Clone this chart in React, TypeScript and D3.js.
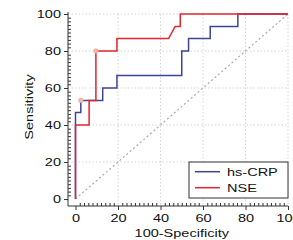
import React, { useEffect, useRef } from 'react';
import * as d3 from 'd3';

// ROC step curves (100-Specificity, Sensitivity)
const crpFpr = [0, 0, 2.5, 2.5, 12.8, 12.8, 19.5, 19.5, 50, 50, 53.2, 53.2, 63.4, 63.4, 76.4, 76.4, 100];
const crpTpr = [0, 46.7, 46.7, 53.3, 53.3, 60, 60, 66.7, 66.7, 80, 80, 86.7, 86.7, 93.3, 93.3, 100, 100];
const nseFpr = [0, 0, 6.4, 6.4, 9.6, 9.6, 19.5, 19.5, 43.8, 46.9, 49.3, 49.3, 100];
const nseTpr = [0, 40, 40, 53.3, 53.3, 80, 80, 86.7, 86.7, 93.3, 93.3, 100, 100];
// optimal criterion markers
const crpCut = [2.5, 53.3];
const nseCut = [9.6, 80];

const majorTicks = [0, 20, 40, 60, 80, 100];
const legendLabels = ['hs-CRP', 'NSE'];
const colors = ['#3d4597', '#e5242c'];

const W = 293;
const H = 240;
const STRETCH = 1.32;

const App: React.FC = () => {
  const svgRef = useRef<SVGSVGElement>(null);

  useEffect(() => {
    const svg = d3.select(svgRef.current);
    svg.selectAll('*').remove();

    const x = d3.scaleLinear().domain([0, 100]).range([75.5, 288]);
    const y = d3.scaleLinear().domain([0, 100]).range([199, 14]);
    const axisX = 68; // y axis line position
    const axisY = 206; // x axis line position
    const font = "'Liberation Sans', Arial, sans-serif";

    // grid
    const grid = svg.append('g').attr('stroke', '#c8c8c8').attr('stroke-width', 0.8).attr('stroke-dasharray', '1.5,2');
    majorTicks.filter(t => t > 0).forEach(t => {
      grid.append('line').attr('x1', x(t)).attr('x2', x(t)).attr('y1', y(100)).attr('y2', axisY);
      grid.append('line').attr('x1', axisX).attr('x2', x(100)).attr('y1', y(t)).attr('y2', y(t));
    });

    // diagonal reference
    svg.append('line')
      .attr('x1', x(0)).attr('y1', y(0)).attr('x2', x(100)).attr('y2', y(100))
      .attr('stroke', '#a8a8a8').attr('stroke-width', 1.2).attr('stroke-dasharray', '2,2.5');

    // axes
    const minor = d3.range(0, 101, 2).filter(v => v % 20 !== 0);
    const yMajor = svg.append('g').attr('transform', `translate(${axisX},0)`)
      .call(d3.axisLeft(y).tickValues(majorTicks).tickSize(4).tickSizeOuter(0).tickPadding(3));
    const yMinor = svg.append('g').attr('transform', `translate(${axisX},0)`)
      .call(d3.axisRight(y).tickValues(minor).tickSize(3).tickFormat(() => ''));
    const xMajor = svg.append('g').attr('transform', `translate(0,${axisY})`)
      .call(d3.axisBottom(x).tickValues(majorTicks).tickSize(4).tickSizeOuter(0).tickPadding(4));
    const xMinor = svg.append('g').attr('transform', `translate(0,${axisY})`)
      .call(d3.axisTop(x).tickValues(minor).tickSize(3).tickFormat(() => ''));
    [yMajor, yMinor, xMajor, xMinor].forEach(a => {
      a.select('.domain').remove();
      a.selectAll('line').attr('stroke', '#333');
      a.selectAll('text').attr('fill', '#111').style('font-family', font).style('font-size', '11px');
    });
    yMajor.selectAll('text').attr('x', 0).attr('transform', `translate(-7,0) scale(${STRETCH},1)`);
    xMajor.selectAll('text').attr('transform', `scale(${STRETCH},1)`);

    svg.append('line').attr('x1', axisX).attr('x2', axisX).attr('y1', 12).attr('y2', axisY).attr('stroke', '#333');
    svg.append('line').attr('x1', axisX).attr('x2', x(100)).attr('y1', axisY).attr('y2', axisY).attr('stroke', '#333');

    // curves
    const line = d3.line<[number, number]>().x(d => x(d[0])).y(d => y(d[1]));
    const series = [
      d3.zip(crpFpr, crpTpr) as [number, number][],
      d3.zip(nseFpr, nseTpr) as [number, number][],
    ];
    series.forEach((s, i) => {
      svg.append('path').datum(s).attr('d', line).attr('fill', 'none')
        .attr('stroke', colors[i]).attr('stroke-width', 1.5);
    });
    [crpCut, nseCut].forEach(c => {
      svg.append('circle').attr('cx', x(c[0])).attr('cy', y(c[1])).attr('r', 2.3)
        .attr('fill', '#f3b9aa').attr('stroke', '#e7a290').attr('stroke-width', 0.6);
    });

    // axis titles
    svg.append('text')
      .attr('transform', `translate(33,107) rotate(-90) scale(${STRETCH},1)`)
      .attr('text-anchor', 'middle').style('font-family', font).style('font-size', '11px').attr('fill', '#111')
      .text('Sensitivity');
    svg.append('text')
      .attr('transform', `translate(${(x(0) + x(100)) / 2},237) scale(${STRETCH},1)`)
      .attr('text-anchor', 'middle').style('font-family', font).style('font-size', '11px').attr('fill', '#111')
      .text('100-Specificity');

    // legend
    const lg = svg.append('g').attr('transform', 'translate(189,162)');
    lg.append('rect').attr('width', 99).attr('height', 36).attr('fill', '#fff').attr('stroke', '#333').attr('stroke-width', 1);
    legendLabels.forEach((lab, i) => {
      const ly = 9.7 + i * 16;
      lg.append('line').attr('x1', 6).attr('x2', 31).attr('y1', ly).attr('y2', ly)
        .attr('stroke', colors[i]).attr('stroke-width', 1.5);
      lg.append('text').attr('transform', `translate(38,${ly + 4}) scale(${STRETCH},1)`)
        .style('font-family', font).style('font-size', '11px').attr('fill', '#111').text(lab);
    });
  }, []);

  return (
    <svg ref={svgRef} width={W} height={H}
      style={{ position: 'absolute', left: 0, top: 0, background: '#fff' }} />
  );
};

export default App;
